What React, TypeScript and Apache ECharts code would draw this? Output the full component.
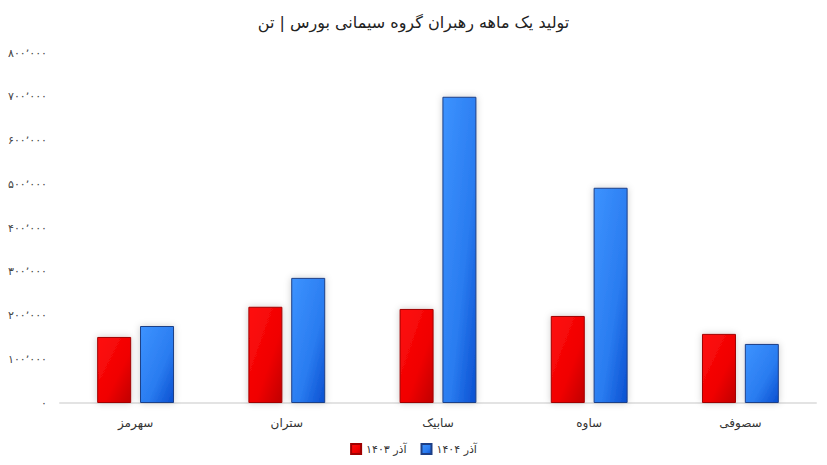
import React, { useEffect, useRef } from "react";
import * as echarts from "echarts";

const titleText = "تولید یک ماهه رهبران گروه سیمانی بورس | تن";
const categories = ["سهرمز", "ستران", "سابیک", "ساوه", "سصوفی"];
const seriesNames = ["آذر ۱۴۰۳", "آذر ۱۴۰۴"];
const values1403 = [151000, 220000, 215000, 199000, 158000];
const values1404 = [176000, 286000, 700000, 492000, 135000];
const yTickLabels = [
  "۰",
  "۱۰۰٬۰۰۰",
  "۲۰۰٬۰۰۰",
  "۳۰۰٬۰۰۰",
  "۴۰۰٬۰۰۰",
  "۵۰۰٬۰۰۰",
  "۶۰۰٬۰۰۰",
  "۷۰۰٬۰۰۰",
  "۸۰۰٬۰۰۰",
];
const yStep = 100000;

const FONT = "'DejaVu Sans', 'Noto Sans', sans-serif";

export default function App() {
  const ref = useRef<HTMLDivElement>(null);
  useEffect(() => {
    document.body.style.margin = "0";
    const chart = echarts.init(ref.current!, null, { renderer: "svg" });
    const redGrad = new echarts.graphic.LinearGradient(0, 0, 1, 1, [
      { offset: 0, color: "#ff1010" },
      { offset: 0.6, color: "#f00000" },
      { offset: 1, color: "#c00000" },
    ]);
    const blueGrad = new echarts.graphic.LinearGradient(0, 0, 1, 1, [
      { offset: 0, color: "#3d93ff" },
      { offset: 0.6, color: "#2a7cf0" },
      { offset: 1, color: "#0a4fd0" },
    ]);
    chart.setOption({
      animation: false,
      backgroundColor: "#ffffff",
      title: {
        text: titleText,
        left: "center",
        top: 9,
        textStyle: {
          fontFamily: FONT,
          fontSize: 16,
          fontWeight: "normal",
          color: "#222",
        },
      },
      legend: {
        data: seriesNames,
        bottom: 5,
        left: "center",
        itemWidth: 10,
        itemHeight: 10,
        itemGap: 14,
        icon: "rect",
        textStyle: { fontFamily: FONT, fontSize: 11, color: "#333" },
      },
      grid: { left: 60, right: 11, top: 53, bottom: 62, containLabel: false },
      xAxis: {
        type: "category",
        data: categories,
        axisLine: { lineStyle: { color: "#e3e3e3", width: 2 } },
        axisTick: { show: false },
        axisLabel: {
          fontFamily: FONT,
          fontSize: 12,
          color: "#333",
          margin: 14,
        },
      },
      yAxis: {
        type: "value",
        min: 0,
        max: 800000,
        interval: yStep,
        axisLine: { show: false },
        axisTick: { show: false },
        splitLine: { show: false },
        axisLabel: {
          fontFamily: FONT,
          fontSize: 11,
          color: "#444",
          margin: 13,
          formatter: (v: number) => yTickLabels[Math.round(v / yStep)] ?? "",
        },
      },
      series: [
        {
          name: seriesNames[0],
          type: "bar",
          data: values1403,
          barWidth: 34,
          barGap: "26%",
          itemStyle: {
            color: redGrad,
            borderColor: "#a00000",
            borderWidth: 1,
            shadowColor: "rgba(0,0,0,0.2)",
            shadowBlur: 7,
          },
        },
        {
          name: seriesNames[1],
          type: "bar",
          data: values1404,
          barWidth: 34,
          itemStyle: {
            color: blueGrad,
            borderColor: "#1d3f86",
            borderWidth: 1,
            shadowColor: "rgba(0,0,0,0.2)",
            shadowBlur: 7,
          },
        },
      ],
    });
    return () => chart.dispose();
  }, []);
  return (
    <div
      ref={ref}
      style={{ position: "absolute", left: 0, top: 0, width: 827, height: 465 }}
    />
  );
}
